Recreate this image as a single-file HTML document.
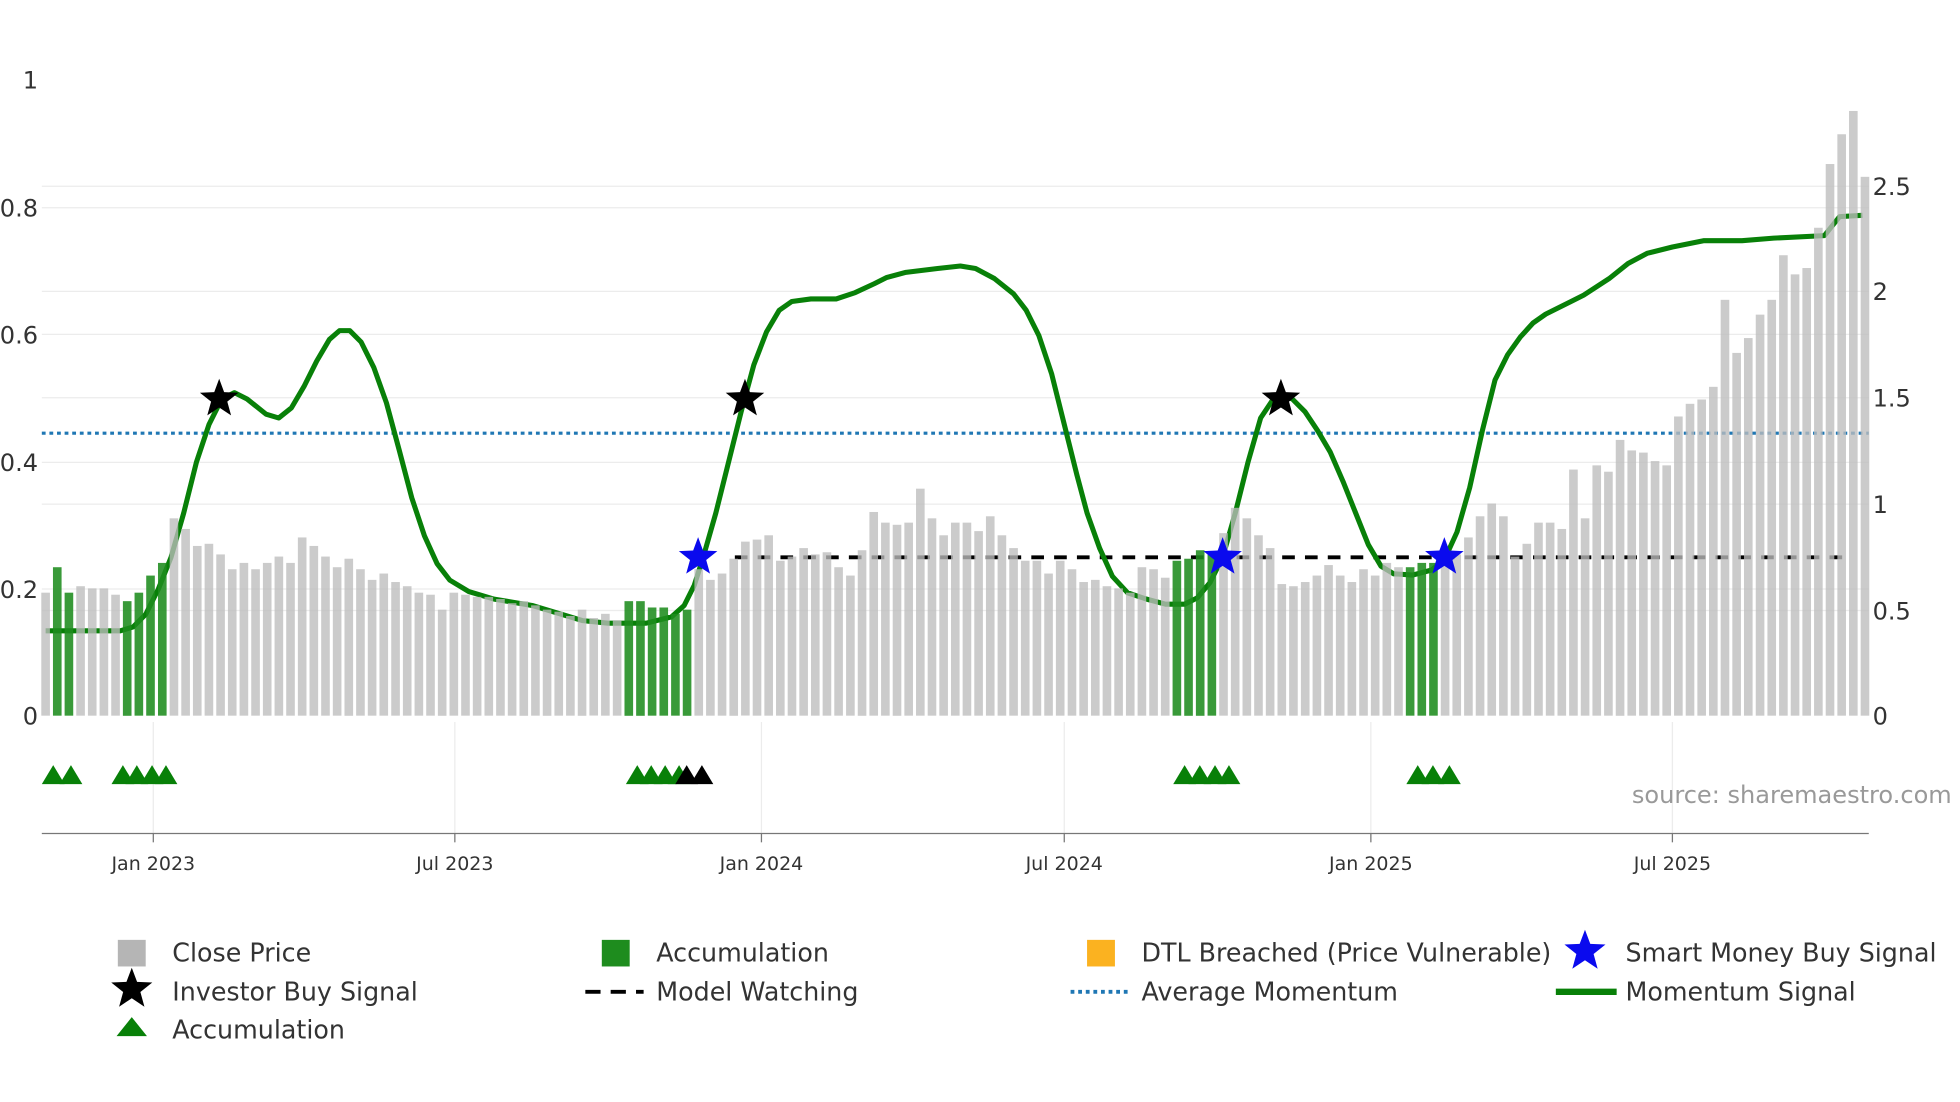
<!DOCTYPE html>
<html><head><meta charset="utf-8"><style>
html,body{margin:0;padding:0;background:#fff;}
svg{display:block;font-family:"DejaVu Sans","Liberation Sans",sans-serif;}
</style></head><body>
<svg id="s" width="1960" height="1102" viewBox="0 0 1547 870" preserveAspectRatio="none" xmlns="http://www.w3.org/2000/svg">
<g stroke="#ececec" stroke-width="1">
<line x1="33" x2="1475" y1="465" y2="465"/><line x1="33" x2="1475" y1="365" y2="365"/><line x1="33" x2="1475" y1="264" y2="264"/><line x1="33" x2="1475" y1="164" y2="164"/>
<line x1="33" x2="1475" y1="482" y2="482"/><line x1="33" x2="1475" y1="398" y2="398"/><line x1="33" x2="1475" y1="314" y2="314"/><line x1="33" x2="1475" y1="230" y2="230"/><line x1="33" x2="1475" y1="147" y2="147"/>
<line x1="121" x2="121" y1="570" y2="658"/><line x1="359" x2="359" y1="570" y2="658"/><line x1="601" x2="601" y1="570" y2="658"/><line x1="840" x2="840" y1="570" y2="658"/><line x1="1082" x2="1082" y1="570" y2="658"/><line x1="1320" x2="1320" y1="570" y2="658"/>
</g>
<line x1="33" x2="1475" y1="342" y2="342" stroke="#1f77b4" stroke-width="2.5" stroke-dasharray="3,3"/>
<line x1="580" x2="1460" y1="440" y2="440" stroke="#000" stroke-width="3" stroke-dasharray="10,8"/>
<polyline id="mom" fill="none" stroke="#088008" stroke-width="4" stroke-linejoin="round"/>
<g id="bars"></g>
<g id="marks"></g>
<line x1="33" x2="1475" y1="658" y2="658" stroke="#777" stroke-width="1"/>
<g stroke="#777"><line x1="121" x2="121" y1="658" y2="665"/><line x1="359" x2="359" y1="658" y2="665"/><line x1="601" x2="601" y1="658" y2="665"/><line x1="840" x2="840" y1="658" y2="665"/><line x1="1082" x2="1082" y1="658" y2="665"/><line x1="1320" x2="1320" y1="658" y2="665"/></g>
<g font-size="15" fill="#333" text-anchor="middle">
<text x="121" y="687">Jan 2023</text><text x="359" y="687">Jul 2023</text><text x="601" y="687">Jan 2024</text><text x="840" y="687">Jul 2024</text><text x="1082" y="687">Jan 2025</text><text x="1320" y="687">Jul 2025</text></g>
<g font-size="19" fill="#333" text-anchor="end">
<text x="30" y="572">0</text><text x="30" y="472">0.2</text><text x="30" y="372">0.4</text><text x="30" y="271">0.6</text><text x="30" y="171">0.8</text><text x="30" y="70">1</text></g>
<g font-size="19" fill="#333">
<text x="1478" y="572">0</text><text x="1478" y="489">0.5</text><text x="1478" y="405">1</text><text x="1478" y="321">1.5</text><text x="1478" y="237">2</text><text x="1478" y="154">2.5</text></g>
<text x="1288" y="634" font-size="19" fill="#999">source: sharemaestro.com</text>
<g font-size="20" fill="#333">
<rect x="93" y="742" width="22" height="21" fill="#b5b5b5"/><text x="136" y="759">Close Price</text>
<rect x="475" y="742" width="22" height="21" fill="#1e8c1e"/><text x="518" y="759">Accumulation</text>
<rect x="858" y="742" width="22" height="21" fill="#fbb220"/><text x="901" y="759">DTL Breached (Price Vulnerable)</text>
<text x="1283" y="759">Smart Money Buy Signal</text>
<text x="136" y="790">Investor Buy Signal</text>
<line x1="462" x2="508" y1="783" y2="783" stroke="#000" stroke-width="3" stroke-dasharray="12,8"/><text x="518" y="790">Model Watching</text>
<line x1="845" x2="890" y1="783" y2="783" stroke="#1f77b4" stroke-width="3" stroke-dasharray="3,3"/><text x="901" y="790">Average Momentum</text>
<line x1="1228" x2="1276" y1="783" y2="783" stroke="#088008" stroke-width="5"/><text x="1283" y="790">Momentum Signal</text>
<polygon points="92,818 116,818 104,803" fill="#088008"/><text x="136" y="820">Accumulation</text>
</g>
<g id="lg"></g>
</svg>
<script>
var NS="http://www.w3.org/2000/svg";
function el(t,a,p){var e=document.createElementNS(NS,t);for(var k in a)e.setAttribute(k,a[k]);document.getElementById(p).appendChild(e);return e;}
var v=[0.58,0.70,0.58,0.61,0.60,0.60,0.57,0.54,0.58,0.66,0.72,0.93,0.88,0.80,0.81,0.76,0.69,0.72,0.69,0.72,0.75,0.72,0.84,0.80,0.75,0.70,0.74,0.69,0.64,0.67,0.63,0.61,0.58,0.57,0.50,0.58,0.57,0.56,0.56,0.55,0.53,0.54,0.52,0.50,0.49,0.47,0.50,0.46,0.48,0.45,0.54,0.54,0.51,0.51,0.48,0.50,0.69,0.64,0.67,0.74,0.82,0.83,0.85,0.73,0.75,0.79,0.76,0.77,0.70,0.66,0.78,0.96,0.91,0.90,0.91,1.07,0.93,0.85,0.91,0.91,0.87,0.94,0.85,0.79,0.73,0.73,0.67,0.73,0.69,0.63,0.64,0.61,0.60,0.58,0.70,0.69,0.65,0.73,0.74,0.78,0.76,0.86,0.98,0.93,0.85,0.79,0.62,0.61,0.63,0.66,0.71,0.66,0.63,0.69,0.66,0.72,0.70,0.70,0.72,0.72,0.72,0.76,0.84,0.94,1.00,0.94,0.75,0.81,0.91,0.91,0.88,1.16,0.93,1.18,1.15,1.30,1.25,1.24,1.20,1.18,1.41,1.47,1.49,1.55,1.96,1.71,1.78,1.89,1.96,2.17,2.08,2.11,2.30,2.60,2.74,2.85,2.54];
var green={1:1,2:1,7:1,8:1,9:1,10:1,50:1,51:1,52:1,53:1,54:1,55:1,97:1,98:1,99:1,100:1,117:1,118:1,119:1};
var n=v.length,dx=(1472-36)/(n-1);
for(var i=0;i<n;i++){var x=36+i*dx,h=v[i]*167.5;
el("rect",{x:(x-3.4).toFixed(1),y:(565-h).toFixed(1),width:6.8,height:h.toFixed(1),fill:green[i]?"#1e8c1e":"#bdbdbd","fill-opacity":green[i]?0.88:0.78},"bars");}
var p=[[36,498],[95,498],[105,495],[115,485],[125,465],[135,440],[145,405],[155,365],[165,335],[175,315],[185,310],[195,315],[210,327],[220,330],[230,322],[240,305],[250,285],[260,268],[268,261],[276,261],[285,270],[295,290],[305,318],[315,355],[325,393],[335,423],[345,445],[355,458],[370,467],[390,473],[420,478],[440,484],[460,490],[480,492],[510,492],[530,487],[540,478],[548,462],[555,440],[565,405],[575,365],[585,325],[595,288],[605,262],[615,245],[625,238],[640,236],[660,236],[675,231],[690,224],[700,219],[715,215],[740,212],[758,210],[770,212],[785,220],[800,232],[810,245],[820,265],[830,295],[840,335],[850,375],[858,405],[868,433],[878,455],[890,468],[905,473],[920,477],[935,477],[945,472],[955,460],[965,440],[975,405],[985,365],[995,330],[1005,315],[1012,312],[1020,315],[1030,325],[1040,340],[1050,357],[1060,380],[1070,405],[1080,430],[1090,447],[1100,453],[1115,454],[1130,450],[1140,442],[1150,420],[1160,385],[1170,340],[1180,300],[1190,280],[1200,266],[1210,255],[1220,248],[1240,238],[1250,233],[1270,220],[1285,208],[1300,200],[1320,195],[1345,190],[1375,190],[1400,188],[1440,186],[1452,171],[1470,170]];
document.getElementById("mom").setAttribute("points",p.map(function(q){return q.join(",")}).join(" "));
function star(cx,cy,r,fill,par){var s=[];for(var k=0;k<10;k++){var a=-Math.PI/2+k*Math.PI/5,rr=k%2?r*0.42:r;s.push((cx+rr*Math.cos(a)).toFixed(1)+","+(cy+rr*Math.sin(a)).toFixed(1));}el("polygon",{points:s.join(" "),fill:fill},par);}
[[173,315],[588,315],[1011,315]].forEach(function(q){star(q[0],q[1],16,"#000","marks")});
[[551,440],[965,440],[1140,440]].forEach(function(q){star(q[0],q[1],16,"#0a0aee","marks")});
function tri(cx,fill){el("polygon",{points:(cx-9)+",619 "+(cx+9)+",619 "+cx+",604",fill:fill},"marks");}
[42,56,97,108,120,131,503,514,525,536,935,947,959,970,1119,1131,1144].forEach(function(x){tri(x,"#088008")});
[542,554].forEach(function(x){tri(x,"#000")});
star(104,781,17,"#000","lg");star(1251,751,17,"#0a0aee","lg");
</script>
</body></html>
